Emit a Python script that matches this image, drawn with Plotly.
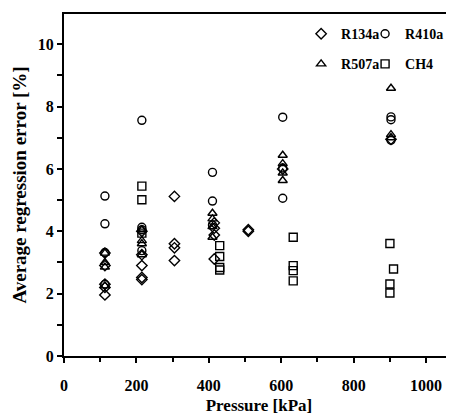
import plotly.graph_objects as go

# R134a (diamond)
r134a_x = [113, 113, 113, 113, 113, 215, 215, 215, 215, 215, 305, 305, 305, 305, 415, 415, 415, 415, 509, 509, 604, 903]
r134a_y = [1.96, 2.2, 2.3, 2.9, 3.3, 2.45, 2.52, 2.9, 3.25, 4.0, 3.06, 3.47, 3.6, 5.12, 3.11, 3.88, 4.27, 4.1, 4.0, 4.05, 6.0, 6.95]
# R410a (circle)
r410a_x = [113, 113, 113, 113, 215, 215, 215, 215, 410, 410, 410, 604, 604, 604, 903, 903, 903]
r410a_y = [5.13, 4.24, 3.32, 2.3, 7.56, 4.13, 4.05, 3.38, 5.89, 4.97, 4.2, 7.66, 6.03, 5.06, 7.67, 7.58, 6.92]
# R507a (triangle)
r507a_x = [113, 113, 113, 113, 215, 215, 215, 215, 410, 410, 410, 410, 604, 604, 604, 604, 903, 903, 903]
r507a_y = [3.3, 2.85, 2.25, 3.0, 3.6, 3.7, 3.25, 4.05, 4.58, 4.4, 3.81, 4.15, 6.44, 6.17, 5.87, 5.63, 8.59, 7.1, 7.0]
# CH4 (square)
ch4_x = [215, 215, 215, 430, 430, 430, 430, 633, 633, 633, 633, 900, 910, 900, 900]
ch4_y = [5.45, 5.01, 3.94, 3.54, 3.19, 2.84, 2.76, 3.81, 2.9, 2.74, 2.41, 3.61, 2.79, 2.31, 2.02]

x_ticks = [0, 200, 400, 600, 800, 1000]
y_ticks = [0, 2, 4, 6, 8, 10]

FONT = "Liberation Serif"
mk = dict(color="rgba(0,0,0,0)", size=8, line=dict(color="black", width=1.4))

fig = go.Figure()
series = [
    ("R134a", r134a_x, r134a_y, "diamond", "legend"),
    ("R410a", r410a_x, r410a_y, "circle", "legend2"),
    ("R507a", r507a_x, r507a_y, "triangle-up", "legend"),
    ("CH4", ch4_x, ch4_y, "square", "legend2"),
]
for name, xs, ys, sym, lg in series:
    fig.add_trace(go.Scatter(
        x=xs, y=ys, mode="markers", name=name, legend=lg, legendgroup=name,
        marker=dict(symbol=sym, **mk),
    ))

legfont = dict(family=FONT, size=14, color="black", weight="bold")
tickfont = dict(family=FONT, size=16, color="black", weight="bold")
legcommon = dict(orientation="v", xanchor="left", yanchor="top",
                 font=legfont, itemwidth=30, tracegroupgap=9,
                 bgcolor="rgba(0,0,0,0)", borderwidth=0)
fig.update_layout(
    width=446, height=412,
    margin=dict(l=56, r=0, t=6, b=64, autoexpand=False),
    plot_bgcolor="white", paper_bgcolor="white",
    font=dict(family=FONT, color="black"),
    legend=dict(x=0.608, y=0.988, **legcommon),
    legend2=dict(x=0.772, y=0.988, **legcommon),
    xaxis=dict(
        range=[0, 1077], tickvals=x_ticks,
        ticks="outside", ticklen=5, tickwidth=2, tickcolor="black",
        ticklabelstandoff=9,
        minor=dict(dtick=100, ticks="outside", ticklen=4, tickwidth=2, tickcolor="black"),
        showline=True, linewidth=2, linecolor="black", mirror=True,
        showgrid=False, zeroline=False,
        tickfont=tickfont,
        title=dict(text="Pressure [kPa]", font=dict(family=FONT, size=17, color="black", weight="bold"), standoff=6),
    ),
    yaxis=dict(
        range=[0, 10.97], tickvals=y_ticks,
        ticks="outside", ticklen=5, tickwidth=2, tickcolor="black",
        minor=dict(dtick=1, ticks="outside", ticklen=5, tickwidth=2, tickcolor="black"),
        showline=True, linewidth=2, linecolor="black", mirror=False,
        showgrid=False, zeroline=False,
        tickfont=tickfont,
        title=dict(text="Average regression error [%]", font=dict(family=FONT, size=19, color="black", weight="bold"), standoff=6),
    ),
)

fig.write_html("out.html")
